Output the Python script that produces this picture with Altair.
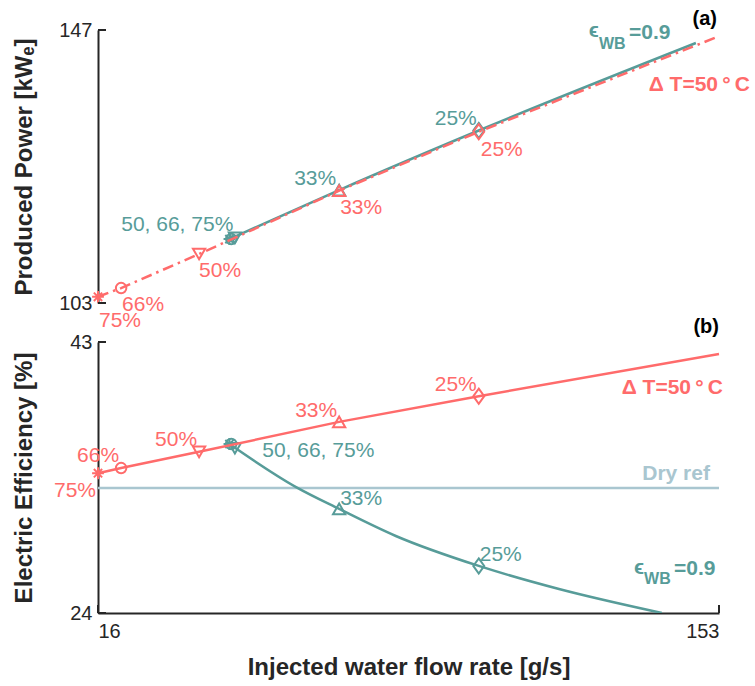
import altair as alt
import pandas as pd

RED = "#FF6B6B"
TEAL = "#579C99"
DRY = "#A9C6D0"
INK = "#262626"
FONT = "Liberation Sans"

# ---------------- data ----------------
pct_labels = ["75%", "66%", "50%", "33%", "25%"]

# Delta T = 50 C series (markers)
dt_flow = [16.0, 21.1, 38.3, 69.2, 100.0]
dt_power = [104.0, 105.4, 110.9, 121.1, 130.6]
dt_eff = [33.8, 34.16, 35.3, 37.4, 39.2]

# eps_WB = 0.9 series (markers)
wb_flow = [45.0, 45.4, 46.2, 69.2, 100.0]
wb_power = [113.3, 113.3, 113.5, 121.2, 130.8]
wb_eff = [35.85, 35.85, 35.55, 31.3, 27.3]

# lines
dt_line_flow = [16.0, 21.1, 38.3, 69.2, 100.0, 153.0]
dt_line_power = [104.0, 105.4, 110.9, 121.1, 130.6, 146.0]
dt_line_eff = [33.8, 34.16, 35.3, 37.4, 39.2, 42.16]
wb_pline_flow = [45.0, 69.2, 100.0, 147.9]
wb_pline_power = [113.3, 121.2, 130.8, 144.9]
wb_eline_flow = [45.0, 59.7, 69.2, 81.7, 100.0, 117.7, 140.4]
wb_eline_eff = [35.85, 32.83, 31.3, 29.4, 27.3, 25.68, 24.0]
dry_flow = [16.0, 153.0]
dry_eff = [32.76, 32.76]

x_ticks = [16, 153]
power_ticks = [103, 147]
eff_ticks = [24, 43]

# ---------------- style ----------------
ASTER = "M-1,0L1,0M0,-1L0,1M-0.7,-0.7L0.7,0.7M-0.7,0.7L0.7,-0.7"
DIAMOND = "M0,-1L0.72,0L0,1L-0.72,0Z"
shape_scale = alt.Scale(domain=pct_labels,
                        range=[ASTER, "circle", "triangle-down", "triangle-up", DIAMOND])
size_scale = alt.Scale(type="ordinal", domain=pct_labels, range=[140, 110, 150, 150, 230])

W = 621
H_TOP = 273
H_BOT = 271

xscale = alt.Scale(domain=[16, 153], nice=False, zero=False)


def df_xy(xs, ys, pcts=None):
    d = {"flow": xs, "val": ys}
    if pcts is not None:
        d["pct"] = pcts
    return pd.DataFrame(d)


def build_panel(yscale, yaxis, xaxis, dt_vals, wb_vals, dt_line_vals, wb_lx, wb_lv,
                red_dash, point_labels, free_labels, height, tick_vals, dry=None):
    X = alt.X("flow:Q", scale=xscale, axis=xaxis)
    Y = alt.Y("val:Q", scale=yscale, axis=yaxis)
    marker_enc = dict(shape=alt.Shape("pct:N", scale=shape_scale, legend=None),
                      size=alt.Size("pct:N", scale=size_scale, legend=None))
    layers = []
    if dry is not None:
        layers.append(alt.Chart(df_xy(*dry)).mark_line(color=DRY, strokeWidth=2.5)
                      .encode(x=X, y=Y))
    layers.append(alt.Chart(df_xy(wb_lx, wb_lv)).mark_line(
        color=TEAL, strokeWidth=2.5, interpolate="monotone", clip=True).encode(x=X, y=Y))
    layers.append(alt.Chart(df_xy(wb_flow, wb_vals, pct_labels)).mark_point(
        color=TEAL, filled=False, strokeWidth=2, opacity=1).encode(x=X, y=Y, **marker_enc))
    line_kw = dict(color=RED, strokeWidth=2.5)
    if red_dash:
        line_kw["strokeDash"] = [11, 5, 2.5, 5]
    layers.append(alt.Chart(df_xy(dt_line_flow, dt_line_vals)).mark_line(**line_kw)
                  .encode(x=X, y=Y))
    layers.append(alt.Chart(df_xy(dt_flow, dt_vals, pct_labels)).mark_point(
        color=RED, filled=False, strokeWidth=2, opacity=1).encode(x=X, y=Y, **marker_enc))
    for (txt, fx, fv, col, dx, dy) in point_labels:
        layers.append(alt.Chart(pd.DataFrame({"flow": [fx], "val": [fv], "t": [txt]}))
                      .mark_text(font=FONT, fontSize=21, color=col, dx=dx, dy=dy,
                                 align="center", baseline="alphabetic")
                      .encode(x=X, y=Y, text="t:N"))
    for (txt, fx, fv, col, size, weight, align) in free_labels:
        layers.append(alt.Chart(pd.DataFrame({"flow": [fx], "val": [fv], "t": [txt]}))
                      .mark_text(font=FONT, fontSize=size, color=col, fontWeight=weight,
                                 align=align, baseline="alphabetic")
                      .encode(x=X, y=Y, text="t:N"))
    # inward ticks on the y axis
    layers.append(alt.Chart(pd.DataFrame({"val": tick_vals})).mark_rule(
        color=INK, strokeWidth=2).encode(y=Y, x=alt.value(0), x2=alt.value(8)))
    return alt.layer(*layers).properties(width=W, height=height)


axis_common = dict(labelFont=FONT, labelFontSize=20, labelColor=INK, titleFont=FONT,
                   titleFontSize=24, titleFontWeight="bold", titleColor=INK,
                   domainColor=INK, domainWidth=2, ticks=False, grid=False)

top_yaxis = alt.Axis(values=power_ticks, title="Produced Power [kWₑ]", labelPadding=6,
                     titlePadding=22, **axis_common)
bot_yaxis = alt.Axis(values=eff_ticks, title="Electric Efficiency [%]", labelPadding=6,
                     titlePadding=33, **axis_common)
bot_xaxis = alt.Axis(values=x_ticks, title="Injected water flow rate [g/s]", labelPadding=8,
                     titlePadding=14, **axis_common)

top_point_labels = [
    (pct_labels[0], dt_flow[0], dt_power[0], RED, 22, 30),
    (pct_labels[1], dt_flow[1], dt_power[1], RED, 22, 23),
    (pct_labels[2], dt_flow[2], dt_power[2], RED, 21, 23),
    (pct_labels[3], dt_flow[3], dt_power[3], RED, 22, 23),
    (pct_labels[4], dt_flow[4], dt_power[4], RED, 23, 24),
    ("50, 66, 75%", wb_flow[1], wb_power[1], TEAL, -54, -8),
    (pct_labels[3], wb_flow[3], wb_power[3], TEAL, -24, -5),
    (pct_labels[4], wb_flow[4], wb_power[4], TEAL, -23, -6),
]
top_free_labels = [
    ("ϵ", 126.5, 145.87, TEAL, 21, "bold", "right"),
    ("WB", 126.5, 143.94, TEAL, 16, "bold", "left"),
    ("=0.9", 133.15, 145.55, TEAL, 21, "bold", "left"),
    ("Δ T=50\u2009°\u2009C", 159.84, 137.17, RED, 21, "bold", "right"),
    ("(a)", 152.56, 147.81, "black", 20, "bold", "right"),
]

bot_point_labels = [
    (pct_labels[0], dt_flow[0], dt_eff[0], RED, -23, 24),
    (pct_labels[1], dt_flow[1], dt_eff[1], RED, -23, -6),
    (pct_labels[2], dt_flow[2], dt_eff[2], RED, -23, -6),
    (pct_labels[3], dt_flow[3], dt_eff[3], RED, -23, -5),
    (pct_labels[4], dt_flow[4], dt_eff[4], RED, -23, -5),
    ("50, 66, 75%", wb_flow[1], wb_eff[1], TEAL, 87, 13),
    (pct_labels[3], wb_flow[3], wb_eff[3], TEAL, 22, -4),
    (pct_labels[4], wb_flow[4], wb_eff[4], TEAL, 22, -5),
]
bot_free_labels = [
    ("Δ T=50\u2009°\u2009C", 153.88, 39.35, RED, 21, "bold", "right"),
    ("Dry ref", 151.0, 33.32, DRY, 21, "bold", "right"),
    ("ϵ", 136.46, 26.73, TEAL, 21, "bold", "right"),
    ("WB", 136.46, 26.03, TEAL, 16, "bold", "left"),
    ("=0.9", 143.07, 26.66, TEAL, 21, "bold", "left"),
    ("(b)", 153.0, 43.63, "black", 20, "bold", "right"),
]

top = build_panel(alt.Scale(domain=[103, 147], nice=False, zero=False), top_yaxis, None,
                  dt_power, wb_power, dt_line_power, wb_pline_flow, wb_pline_power,
                  True, top_point_labels, top_free_labels, H_TOP, power_ticks)

bottom = build_panel(alt.Scale(domain=[24, 43], nice=False, zero=False), bot_yaxis, bot_xaxis,
                     dt_eff, wb_eff, dt_line_eff, wb_eline_flow, wb_eline_eff,
                     False, bot_point_labels, bot_free_labels, H_BOT, eff_ticks,
                     dry=(dry_flow, dry_eff))

# inward ticks on the x axis of the bottom panel
xt = alt.Chart(pd.DataFrame({"flow": x_ticks})).mark_rule(color=INK, strokeWidth=2).encode(
    x=alt.X("flow:Q", scale=xscale, axis=bot_xaxis), y=alt.value(H_BOT - 8), y2=alt.value(H_BOT))
bottom = alt.layer(bottom, xt).properties(width=W, height=H_BOT)

chart = alt.vconcat(top, bottom, spacing=39, bounds="flush").properties(
    padding={"left": 12, "top": 8, "right": 4, "bottom": 5},
    background="white",
).configure_view(stroke=None)

chart.save("out.html", embed_options={"renderer": "svg", "actions": False})
